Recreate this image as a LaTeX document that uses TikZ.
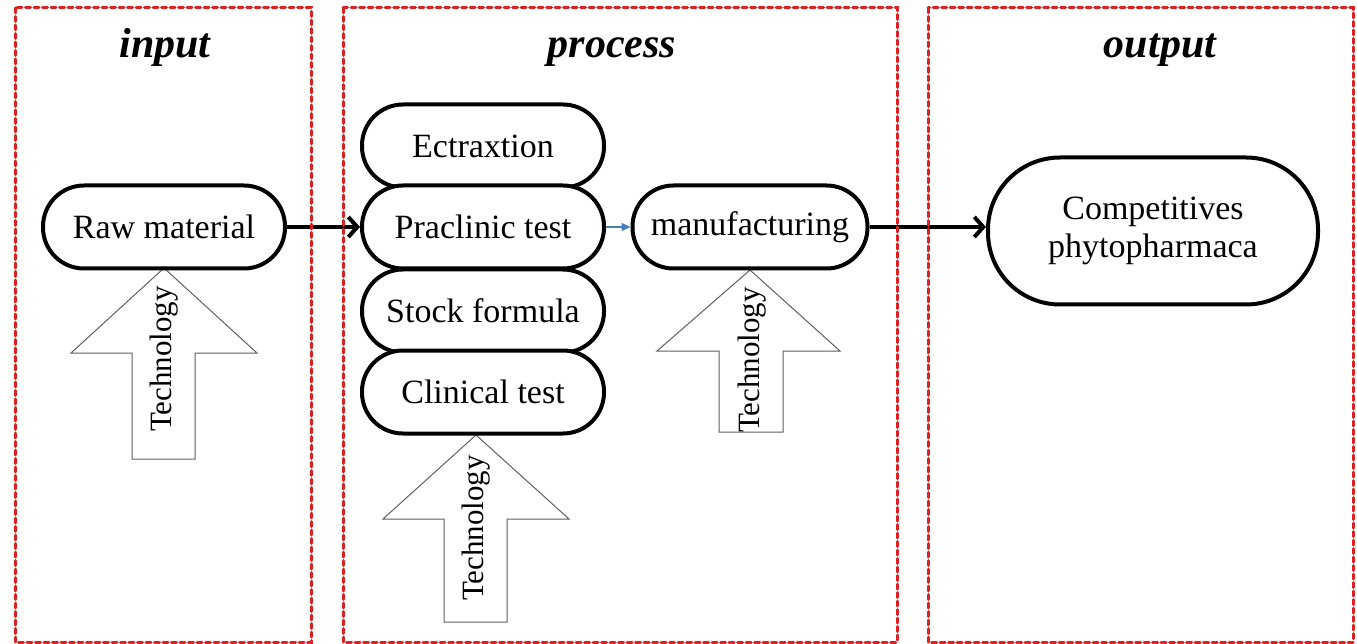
\documentclass[tikz,border=0pt]{standalone}
\usepackage{fontspec}
\setmainfont{Liberation Serif}
\usetikzlibrary{arrows.meta}
\definecolor{framered}{HTML}{E02020}
\definecolor{linkblue}{HTML}{4A7EBB}
\definecolor{techgray}{HTML}{606060}
\tikzset{
  frame/.style={draw=framered, line width=3pt, dash pattern=on 5pt off 3.5pt, line cap=round},
  title/.style={font=\fontsize{42}{48}\selectfont\bfseries\itshape, anchor=base},
  pill/.style={draw=black, fill=white, line width=4pt, rectangle, rounded corners=41pt,
    minimum height=83pt, font=\fontsize{34}{40}\selectfont, inner sep=0pt},
  techarrow/.style={draw=techgray, line width=1pt, fill=white, line join=miter},
  techtext/.style={rotate=90, font=\fontsize{31}{36}\selectfont, inner sep=0pt},
  bigarrow/.style={line width=4pt, -{Straight Barb[length=9pt,width=20pt,line width=4pt]}},
  smallarrow/.style={draw=linkblue, line width=1.3pt, -{Triangle[length=9pt,width=8pt]}},
}
\begin{document}
\begin{tikzpicture}[x=1pt,y=-1pt]
\useasboundingbox (0,0) rectangle (1357,644);

% Technology arrows
\draw[techarrow] (164,268) -- (257,353) -- (195,353) -- (195,459) -- (132,459) -- (132,353) -- (71,353) -- cycle;
\node[techtext] (tech1) at (164,359) {Technology};
\draw[techarrow] (476,435) -- (569,519) -- (507,519) -- (507,622) -- (444,622) -- (444,519) -- (383,519) -- cycle;
\node[techtext] (tech2) at (476,528) {Technology};
\draw[techarrow] (750,270) -- (840,351) -- (783,351) -- (783,432) -- (719,432) -- (719,351) -- (657,351) -- cycle;
\node[techtext] (tech3) at (752,360) {Technology};

% Nodes
\node[pill, minimum width=242pt] (raw) at (164,227) {Raw material};
\node[pill, minimum width=242pt] (ext) at (483,146) {Ectraxtion};
\node[pill, minimum width=242pt] (pra) at (483,227) {Praclinic test};
\node[pill, minimum width=242pt] (stock) at (483,311) {Stock formula};
\node[pill, minimum width=242pt] (clin) at (483,392) {Clinical test};
\node[pill, minimum width=235pt] (manu) at (750,227) {manufacturing};
\node[pill, minimum width=330pt, minimum height=147pt, rounded corners=72pt, align=center,
  font=\fontsize{34}{38}\selectfont] (comp) at (1153,231) {Competitives\\phytopharmaca};

% Connectors
\draw[bigarrow] (raw.east) -- (pra.west);
\draw[smallarrow] (pra.east) -- (manu.west);
\draw[bigarrow] (manu.east) -- (comp.west |- manu.east);

% Frames
\draw[frame] (15,8) rectangle (311,642);
\draw[frame] (343,8) rectangle (897,642);
\draw[frame] (928,8) rectangle (1353,642);

% Titles
\node[title] (tin) at (165,58) {input};
\node[title] (tproc) at (612,58) {process};
\node[title] (tout) at (1160,58) {output};
\end{tikzpicture}
\end{document}
